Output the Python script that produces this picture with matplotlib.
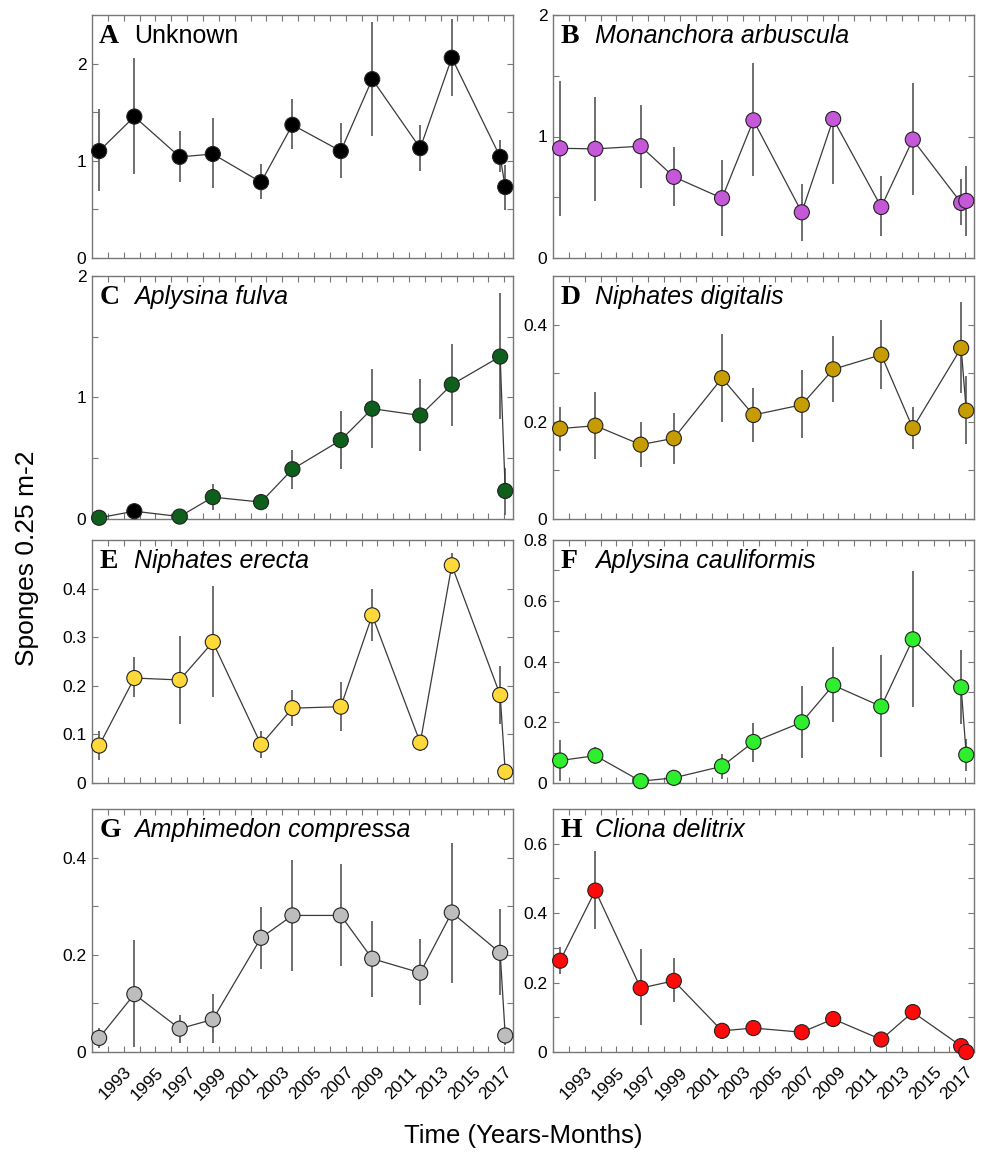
import matplotlib
matplotlib.use("Agg")
import matplotlib.pyplot as plt
import numpy as np

plt.rcParams['font.family'] = ['Liberation Sans', 'DejaVu Sans']

# survey dates (decimal years)
years = [1991.45, 1993.67, 1996.53, 1998.62, 2001.66, 2003.64,
         2006.69, 2008.67, 2011.70, 2013.69, 2016.74, 2017.06]

tick_years = list(range(1992, 2018))
tick_labels = [str(y) if y % 2 == 1 else '' for y in tick_years]

letters = ['A', 'B', 'C', 'D', 'E', 'F', 'G', 'H']
names = ['Unknown', 'Monanchora arbuscula', 'Aplysina fulva', 'Niphates digitalis',
         'Niphates erecta', 'Aplysina cauliformis', 'Amphimedon compressa', 'Cliona delitrix']

# means, lower and upper ends of the error bars
unk_y = [1.10, 1.455, 1.04, 1.07, 0.78, 1.37, 1.10, 1.84, 1.13, 2.06, 1.04, 0.73]
unk_lo = [0.69, 0.86, 0.78, 0.72, 0.61, 1.12, 0.82, 1.26, 0.90, 1.67, 0.88, 0.49]
unk_hi = [1.53, 2.06, 1.31, 1.44, 0.97, 1.64, 1.39, 2.43, 1.37, 2.46, 1.21, 0.96]

mon_y = [0.903, 0.898, 0.92, 0.668, 0.492, 1.133, 0.376, 1.144, 0.42, 0.975, 0.453, 0.47]
mon_lo = [0.345, 0.467, 0.58, 0.431, 0.182, 0.671, 0.144, 0.608, 0.177, 0.517, 0.268, 0.185]
mon_hi = [1.456, 1.323, 1.262, 0.912, 0.807, 1.602, 0.608, 1.144, 0.671, 1.442, 0.649, 0.76]

ful_y = [0.01, 0.064, 0.02, 0.18, 0.139, 0.41, 0.649, 0.908, 0.852, 1.106, 1.337, 0.231]
ful_lo = [0.0, 0.014, 0.0, 0.078, 0.07, 0.251, 0.41, 0.585, 0.557, 0.763, 0.827, 0.036]
ful_hi = [0.03, 0.11, 0.04, 0.284, 0.209, 0.571, 0.891, 1.234, 1.156, 1.443, 1.861, 0.418]

dig_y = [0.186, 0.192, 0.153, 0.166, 0.29, 0.214, 0.235, 0.308, 0.338, 0.187, 0.352, 0.223]
dig_lo = [0.139, 0.123, 0.107, 0.114, 0.2, 0.158, 0.166, 0.24, 0.268, 0.145, 0.259, 0.155]
dig_hi = [0.231, 0.262, 0.199, 0.219, 0.381, 0.27, 0.307, 0.376, 0.41, 0.231, 0.446, 0.294]

ere_y = [0.077, 0.216, 0.212, 0.29, 0.079, 0.154, 0.157, 0.345, 0.083, 0.448, 0.181, 0.023]
ere_lo = [0.048, 0.176, 0.122, 0.177, 0.052, 0.118, 0.106, 0.293, 0.066, 0.431, 0.122, 0.015]
ere_hi = [0.107, 0.259, 0.303, 0.406, 0.106, 0.192, 0.208, 0.399, 0.093, 0.474, 0.241, 0.03]

cau_y = [0.074, 0.09, 0.006, 0.017, 0.055, 0.135, 0.2, 0.322, 0.252, 0.473, 0.315, 0.093]
cau_lo = [0.008, 0.063, 0.0, 0.005, 0.013, 0.068, 0.082, 0.2, 0.087, 0.25, 0.193, 0.04]
cau_hi = [0.142, 0.12, 0.012, 0.03, 0.096, 0.198, 0.318, 0.447, 0.421, 0.699, 0.438, 0.146]

com_y = [0.029, 0.119, 0.048, 0.067, 0.235, 0.281, 0.281, 0.192, 0.163, 0.287, 0.204, 0.034]
com_lo = [0.008, 0.01, 0.019, 0.019, 0.17, 0.167, 0.177, 0.114, 0.096, 0.143, 0.117, 0.015]
com_hi = [0.049, 0.23, 0.077, 0.119, 0.298, 0.395, 0.386, 0.269, 0.232, 0.431, 0.294, 0.048]

del_y = [0.263, 0.465, 0.184, 0.205, 0.061, 0.069, 0.057, 0.095, 0.036, 0.115, 0.017, 0.0]
del_lo = [0.226, 0.353, 0.077, 0.144, 0.038, 0.046, 0.049, 0.075, 0.027, 0.096, 0.01, 0.0]
del_hi = [0.302, 0.578, 0.296, 0.272, 0.084, 0.091, 0.065, 0.115, 0.045, 0.134, 0.024, 0.0]

series = [(unk_y, unk_lo, unk_hi), (mon_y, mon_lo, mon_hi), (ful_y, ful_lo, ful_hi),
          (dig_y, dig_lo, dig_hi), (ere_y, ere_lo, ere_hi), (cau_y, cau_lo, cau_hi),
          (com_y, com_lo, com_hi), (del_y, del_lo, del_hi)]

colors = ['#000000', '#C458D8', '#0E5E1C', '#C69C00', '#FFD83A', '#2EEE2E', '#BDBDBD', '#FF0A0A']
# panel C: second point is drawn black in the original
point_colors = [[c] * len(years) for c in colors]
point_colors[2][1] = '#000000'

ylims = [2.5, 2.0, 2.0, 0.5, 0.5, 0.8, 0.5, 0.7]
ymajor = [[0, 1, 2], [0, 1, 2], [0, 1, 2], [0, 0.2, 0.4], [0, 0.1, 0.2, 0.3, 0.4],
          [0, 0.2, 0.4, 0.6, 0.8], [0, 0.2, 0.4], [0, 0.2, 0.4, 0.6]]
yminor = [[0.5, 1.5], [0.5, 1.5], [0.5, 1.5], [0.1, 0.3], [],
          [0.1, 0.3, 0.5, 0.7], [0.1, 0.3], [0.1, 0.3, 0.5]]

W, H = 981, 1152
fig = plt.figure(figsize=(W / 100, H / 100), dpi=100)

col_left = [92, 553]
row_top = [15, 276, 540, 809]
aw, ah = 421, 243

for i in range(8):
    r, c = i // 2, i % 2
    ax = fig.add_axes([col_left[c] / W, 1 - (row_top[r] + ah) / H, aw / W, ah / H])
    y, lo, hi = series[i]
    y = np.array(y)
    err = [y - np.array(lo), np.array(hi) - y]
    ax.errorbar(years, y, yerr=err, fmt='none', ecolor='#555555', elinewidth=1.2,
                capsize=0, zorder=2, clip_on=False)
    ax.plot(years, y, '-', color='#3a3a3a', lw=0.9, zorder=3)
    ax.scatter(years, y, s=118, c=point_colors[i], edgecolors='#222222',
               linewidths=0.8, zorder=4, clip_on=False)

    ax.set_xlim(1991, 2017.55)
    ax.set_ylim(0, ylims[i])
    ax.set_xticks(tick_years)
    if r == 3:
        ax.set_xticklabels(tick_labels, rotation=45, ha='right', va='top',
                           rotation_mode='anchor', fontsize=12.5)
    else:
        ax.set_xticklabels([])
    ax.set_yticks(ymajor[i])
    ax.set_yticklabels(['%g' % v for v in ymajor[i]], fontsize=12.5)
    ax.set_yticks(yminor[i], minor=True)
    ax.tick_params(axis='both', which='both', direction='in', top=True, right=True,
                   length=4.5, width=0.8, color='#777777')
    ax.tick_params(axis='x', pad=9)
    ax.tick_params(axis='y', pad=4)
    for sp in ax.spines.values():
        sp.set_color('#777777')
        sp.set_linewidth(1.0)

    ax.text(0.017, 0.885, letters[i], transform=ax.transAxes, fontsize=20,
            fontweight='bold', family='Liberation Serif', va='baseline', ha='left')
    ax.text(0.10, 0.885, names[i], transform=ax.transAxes, fontsize=18,
            style='normal' if i == 0 else 'italic', va='baseline', ha='left')

fig.text(0.028, 0.515, 'Sponges 0.25 m-2', rotation=90, fontsize=19,
         ha='center', va='center')
fig.text(0.533, 0.014, 'Time (Years-Months)', fontsize=18.5, ha='center', va='center')

fig.savefig('out.png', dpi=100)
